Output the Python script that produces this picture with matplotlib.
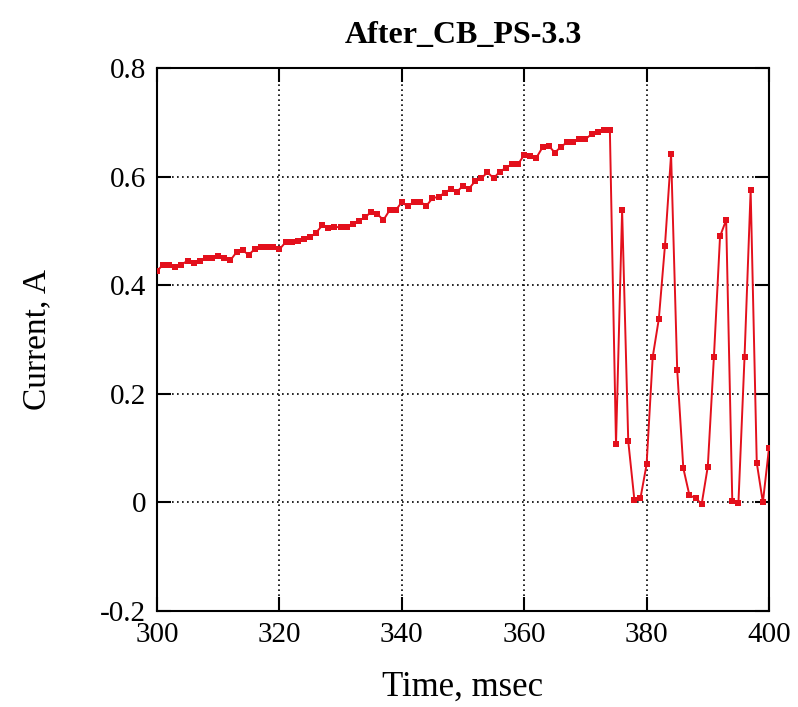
import matplotlib
matplotlib.use("Agg")
import matplotlib.pyplot as plt
import numpy as np

# Time samples (msec) and measured current (A)
time_ms = list(range(300, 401))
current_a = [
    0.426, 0.438, 0.437, 0.434, 0.438, 0.445, 0.440, 0.445, 0.451, 0.451,
    0.454, 0.451, 0.446, 0.461, 0.464, 0.456, 0.467, 0.470, 0.470, 0.470,
    0.466, 0.479, 0.479, 0.482, 0.485, 0.488, 0.497, 0.510, 0.505, 0.507,
    0.507, 0.507, 0.513, 0.519, 0.525, 0.535, 0.531, 0.520, 0.538, 0.538,
    0.553, 0.545, 0.554, 0.554, 0.546, 0.560, 0.563, 0.570, 0.577, 0.572,
    0.583, 0.578, 0.592, 0.597, 0.608, 0.597, 0.609, 0.616, 0.623, 0.623,
    0.640, 0.638, 0.635, 0.654, 0.657, 0.644, 0.655, 0.663, 0.664, 0.669,
    0.669, 0.678, 0.683, 0.685, 0.685, 0.107, 0.538, 0.113, 0.005, 0.008,
    0.070, 0.268, 0.338, 0.473, 0.641, 0.244, 0.063, 0.013, 0.008, -0.003,
    0.066, 0.268, 0.490, 0.520, 0.003, -0.002, 0.267, 0.575, 0.073, 0.000,
    0.100,
]

x_ticks = [300, 320, 340, 360, 380, 400]
y_ticks = [-0.2, 0, 0.2, 0.4, 0.6, 0.8]
y_tick_labels = ["-0.2", "0", "0.2", "0.4", "0.6", "0.8"]

plt.rcParams["font.family"] = ["Liberation Serif", "DejaVu Serif"]

fig = plt.figure(figsize=(7.98, 7.07), dpi=100)
ax = fig.add_axes([157 / 798, 1 - 611 / 707, 612 / 798, 543 / 707])

ax.plot(time_ms, current_a, color="#e3101c", linewidth=1.4,
        marker="s", markersize=4, markeredgewidth=0, zorder=3)

ax.set_xlim(300, 400)
ax.set_ylim(-0.2, 0.8)
ax.set_xticks(x_ticks)
ax.set_yticks(y_ticks)
ax.set_yticklabels(y_tick_labels)

ax.grid(True, color="black", linestyle=(0, (1, 2)), linewidth=1.2)
ax.tick_params(direction="in", length=10, width=1.5, top=True, right=True,
               labelsize=21, pad=8)
for spine in ax.spines.values():
    spine.set_linewidth(1.5)

ax.set_title("After_CB_PS-3.3", fontsize=23, fontweight="bold", pad=18)
ax.set_xlabel("Time, msec", fontsize=25, labelpad=16)
ax.set_ylabel("Current, A", fontsize=24, labelpad=34)

fig.savefig("out.png", dpi=100)
